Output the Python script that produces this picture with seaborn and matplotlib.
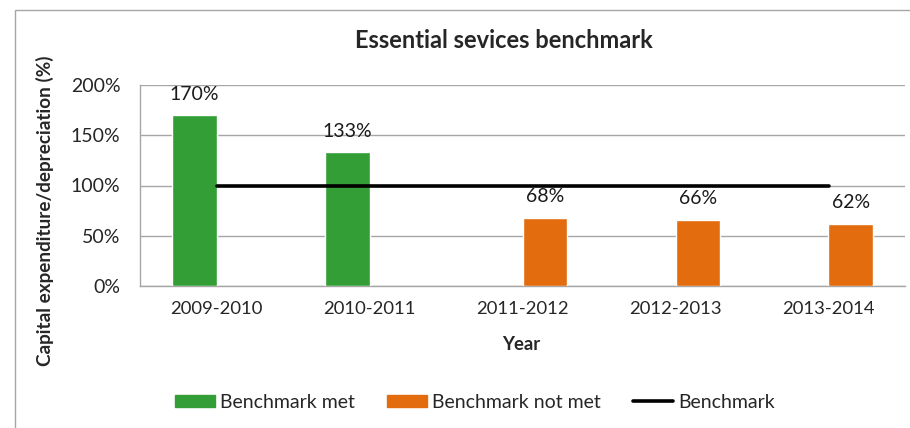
import numpy as np
import pandas as pd
import matplotlib
matplotlib.use("Agg")
import matplotlib.pyplot as plt
import seaborn as sns
from matplotlib.patches import Rectangle, Patch
from matplotlib.lines import Line2D

# data
years = ['2009-2010', '2010-2011', '2011-2012', '2012-2013', '2013-2014']
ratio = [170, 133, 68, 66, 62]
status = ['Benchmark met', 'Benchmark met', 'Benchmark not met',
          'Benchmark not met', 'Benchmark not met']
benchmark = [100, 100, 100, 100, 100]
yticks = [0, 50, 100, 150, 200]

GREEN = '#339e35'
ORANGE = '#e36c0e'
GRID = '#a6a6a6'
W, H = 910, 428

df = pd.DataFrame({'year': years, 'ratio': ratio, 'status': status})

sns.set_style('white')
plt.rcParams['font.family'] = ['Lato', 'DejaVu Sans']

fig = plt.figure(figsize=(W / 100, H / 100), dpi=100)
ax = fig.add_axes([140 / W, 1 - 286 / H, (905 - 140) / W, (286 - 85) / H])

sns.barplot(data=df, x='year', y='ratio', hue='status',
            hue_order=['Benchmark met', 'Benchmark not met'],
            palette=[GREEN, ORANGE], width=0.58, dodge=True,
            saturation=1, legend=False, ax=ax, zorder=3)

for cont in ax.containers:
    ax.bar_label(cont, labels=[f'{b.get_height():.0f}%' for b in cont],
                 padding=9, fontsize=14, color='#1a1a1a')

sns.lineplot(x=np.arange(len(years)), y=benchmark, color='black',
             linewidth=2.6, ax=ax, zorder=4)

ax.set_ylim(0, 200)
ax.set_xlim(-0.5, len(years) - 0.5)
ax.set_yticks(yticks)
ax.set_yticklabels([f'{v}%' for v in yticks])
ax.yaxis.grid(True, color=GRID, linewidth=1)
ax.set_axisbelow(True)
ax.tick_params(axis='y', length=3.6, color=GRID, labelsize=14, pad=10.5)
ax.tick_params(axis='x', which='major', length=0, labelsize=13.3, pad=11)
ax.set_xticks(np.arange(-0.5, len(years)), minor=True)
ax.tick_params(axis='x', which='minor', length=3.6, color=GRID)
for side in ['top', 'right']:
    ax.spines[side].set_visible(False)
for side in ['left', 'bottom']:
    ax.spines[side].set_color(GRID)
    ax.spines[side].set_linewidth(1)
ax.set_xlabel('')
ax.set_ylabel('')

fig.text(521 / W, 1 - 345 / H, 'Year', ha='center', va='center',
         fontsize=13.3, fontweight='bold')
fig.text(45 / W, 1 - 211 / H, 'Capital expenditure/depreciation (%)',
         rotation=90, ha='center', va='center', fontsize=13.6, fontweight='bold')
fig.text(504 / W, 1 - 41 / H, 'Essential sevices benchmark',
         ha='center', va='center', fontsize=17, fontweight='bold')

handles = [Patch(color=GREEN, label='Benchmark met'),
           Patch(color=ORANGE, label='Benchmark not met'),
           Line2D([], [], color='black', linewidth=2.6, label='Benchmark')]
fig.legend(handles=handles, loc='center', bbox_to_anchor=(475 / W, 1 - 402 / H),
           ncol=3, frameon=False, fontsize=14, handlelength=2.06,
           handleheight=0.57, handletextpad=0.26, columnspacing=1.65)

# chart-area border (runs off the right and bottom edge in the reference)
fig.patches.append(Rectangle((15 / W, -0.05), 1.0, 1.05 - 10 / H,
                             transform=fig.transFigure, fill=False,
                             edgecolor=GRID, linewidth=1))

fig.savefig('out.png', dpi=100)
